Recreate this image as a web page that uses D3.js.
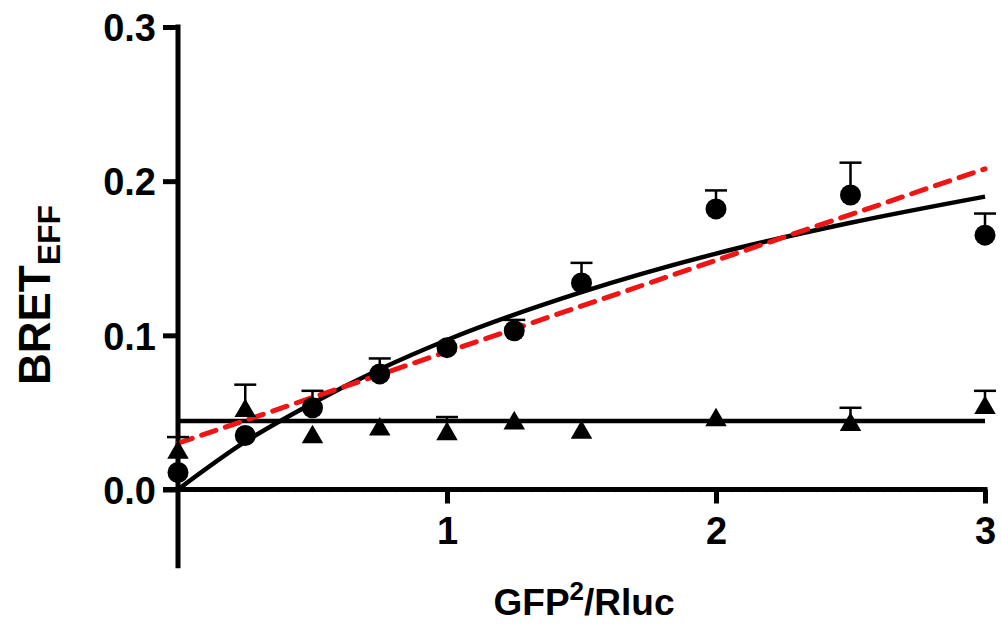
<!DOCTYPE html>
<html>
<head>
<meta charset="utf-8">
<script src="https://cdn.jsdelivr.net/npm/d3@7"></script>
<style>
html, body { margin:0; padding:0; background:#ffffff; }
svg { display:block; font-family:"Liberation Sans", Arial, sans-serif; font-weight:bold; }
</style>
</head>
<body>
<div id="bretwrap"></div>
<script>
// x values (GFP2/Rluc) shared by both series
var ratio = [0, 0.25, 0.5, 0.75, 1, 1.25, 1.5, 2, 2.5, 3];

// circles - specific interaction
var circleMean = [0.011, 0.035, 0.053, 0.075, 0.092, 0.103, 0.134, 0.182, 0.191, 0.165];
var circleErr  = [0, 0, 0.011, 0.010, 0, 0.007, 0.013, 0.012, 0.021, 0.014];

// triangles - non specific
var triMean = [0.024, 0.051, 0.034, 0.039, 0.036, 0.043, 0.037, 0.045, 0.042, 0.053];
var triErr  = [0.010, 0.017, 0, 0, 0.011, 0, 0, 0, 0.011, 0.011];

// fitted curves
var fitCircleX = [0, 0.25, 0.5, 0.75, 1, 1.5, 2, 2.5, 3];
var fitCircleY = [0, 0.031, 0.056, 0.078, 0.097, 0.128, 0.153, 0.173, 0.190];
var fitLinearX = [0, 3];
var fitLinearY = [0.030, 0.208];
var fitFlatX = [0, 3];
var fitFlatY = [0.0445, 0.0445];

var yTicks = [0, 0.1, 0.2, 0.3];
var xTicks = [1, 2, 3];

var bret = {};
bret.width = 1001;
bret.height = 635;
bret.svg = d3.select("#bretwrap").append("svg").attr("width", bret.width).attr("height", bret.height);

bret.x = d3.scaleLinear().domain([0, 3]).range([178, 985]);
bret.y = d3.scaleLinear().domain([0, 0.3]).range([489.5, 27]);

var x = bret.x, y = bret.y;
var svg = bret.svg;

//axes
var yAxis = svg.append("g").attr("transform", "translate(" + x(0) + ",0)")
	.call(d3.axisLeft(y).tickValues(yTicks).tickSize(15).tickPadding(7).tickFormat(d3.format(".1f")));
yAxis.select(".domain").remove();
yAxis.selectAll(".tick line").attr("stroke", "#000").attr("stroke-width", 5);
yAxis.selectAll(".tick text").attr("font-size", "38px").attr("font-weight", "bold").attr("fill", "#000").attr("dy", "0.36em");

var xAxis = svg.append("g").attr("transform", "translate(0," + y(0) + ")")
	.call(d3.axisBottom(x).tickValues(xTicks).tickSize(14).tickPadding(14).tickFormat(d3.format("d")));
xAxis.select(".domain").remove();
xAxis.selectAll(".tick line").attr("stroke", "#000").attr("stroke-width", 5);
xAxis.selectAll(".tick text").attr("font-size", "38px").attr("font-weight", "bold").attr("fill", "#000");

//faint minor ticks along the x axis (barely visible in the original)
var minor = d3.range(1, 48).map(function(i){return i/16;}).filter(function(v){return v % 1 != 0;});
svg.append("g").selectAll("line.minor").data(minor).enter().append("line").classed("minor", true)
	.attr("x1", function(d){return x(d)}).attr("x2", function(d){return x(d)})
	.attr("y1", y(0) + 2.5).attr("y2", y(0) + 3.5)
	.attr("stroke", "#e4e4e4").attr("stroke-width", 1);

//axis lines
svg.append("line").attr("x1", x(0)).attr("x2", x(0)).attr("y1", y(0.3) - 2.5).attr("y2", y(-0.051))
	.attr("stroke", "#000").attr("stroke-width", 5);
svg.append("line").attr("x1", x(0) - 15).attr("x2", x(3) + 2.5).attr("y1", y(0)).attr("y2", y(0))
	.attr("stroke", "#000").attr("stroke-width", 5);

//fit lines
var line = d3.line().x(function(d){return x(d[0])}).y(function(d){return y(d[1])});

svg.append("path").datum(d3.zip(fitFlatX, fitFlatY))
	.attr("d", line).attr("fill", "none").attr("stroke", "#000").attr("stroke-width", 4.5);

svg.append("path").datum(d3.zip(fitCircleX, fitCircleY))
	.attr("d", line.curve(d3.curveMonotoneX)).attr("fill", "none").attr("stroke", "#000").attr("stroke-width", 4.5);

svg.append("path").datum(d3.zip(fitLinearX, fitLinearY))
	.attr("d", line.curve(d3.curveLinear)).attr("fill", "none").attr("stroke", "#f01414")
	.attr("stroke-width", 5).attr("stroke-dasharray", "15,10").attr("stroke-linecap", "round");

//error bars (upper only)
function errorbars(means, errs){
	var pts = ratio.map(function(r, i){return {x:r, m:means[i], e:errs[i]};}).filter(function(d){return d.e > 0;});
	var g = svg.append("g").attr("stroke", "#000").attr("stroke-width", 2.5);
	g.selectAll("line.stem").data(pts).enter().append("line").classed("stem", true)
		.attr("x1", function(d){return x(d.x)}).attr("x2", function(d){return x(d.x)})
		.attr("y1", function(d){return y(d.m)}).attr("y2", function(d){return y(d.m + d.e)});
	g.selectAll("line.cap").data(pts).enter().append("line").classed("cap", true)
		.attr("x1", function(d){return x(d.x) - 11}).attr("x2", function(d){return x(d.x) + 11})
		.attr("y1", function(d){return y(d.m + d.e)}).attr("y2", function(d){return y(d.m + d.e)});
}
errorbars(triMean, triErr);
errorbars(circleMean, circleErr);

//markers
var tri = d3.symbol().type(d3.symbolTriangle).size(200);
svg.append("g").selectAll("path.tri").data(ratio).enter().append("path").classed("tri", true)
	.attr("d", tri)
	.attr("transform", function(d, i){return "translate(" + x(d) + "," + y(triMean[i]) + ")"})
	.attr("fill", "#000");

svg.append("g").selectAll("circle.pt").data(ratio).enter().append("circle").classed("pt", true)
	.attr("cx", function(d){return x(d)})
	.attr("cy", function(d, i){return y(circleMean[i])})
	.attr("r", 10.5)
	.attr("fill", "#000");

//axis titles
var yt = svg.append("text").attr("transform", "translate(50,295) rotate(-90)")
	.attr("text-anchor", "middle").attr("fill", "#000");
yt.append("tspan").attr("font-size", "44px").text("BRET");
yt.append("tspan").attr("font-size", "32px").attr("dy", "10").text("EFF");

var xt = svg.append("text").attr("x", 584).attr("y", 615)
	.attr("text-anchor", "middle").attr("fill", "#000").attr("font-size", "37px");
xt.append("tspan").text("GFP");
xt.append("tspan").attr("font-size", "26px").attr("dy", "-15").text("2");
xt.append("tspan").attr("dy", "15").text("/Rluc");
</script>
</body>
</html>
